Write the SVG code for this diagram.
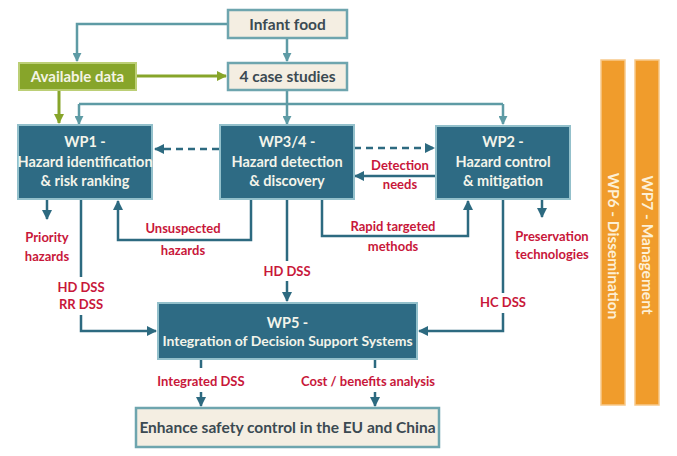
<svg xmlns="http://www.w3.org/2000/svg" width="677" height="456" viewBox="0 0 677 456">
<defs>
<style>
text{font-family:Lato,"Open Sans","Liberation Sans",sans-serif;font-weight:700;text-anchor:middle}
.cream{fill:#f4eee2;stroke:#6ea5ae;stroke-width:2.5}
.green{fill:#87a52a;stroke:#bccf76;stroke-width:2}
.wp{fill:#2e6b84;stroke:#93c0cb;stroke-width:2}
.orange{fill:#f09c2c;stroke:#f7c98a;stroke-width:1.5}
.tc{fill:#3b4a52;font-size:15.5px}
.tw{fill:#f3f4ea;font-size:14.5px}
.tg{fill:#f4f4e4;font-size:15px}
.to{fill:#fdf0d6;font-size:15.5px}
.lab{fill:#c8173a;font-size:13px}
.lt{fill:none;stroke:#5e9ba5;stroke-width:2.5}
.lg{fill:none;stroke:#87a52a;stroke-width:3}
.ld{fill:none;stroke:#2d6a80;stroke-width:2.5}
.dash{stroke-dasharray:7 5}
</style>
<marker id="at" viewBox="0 0 10 10" refX="9" refY="5" markerWidth="9" markerHeight="9" markerUnits="userSpaceOnUse" orient="auto"><path d="M0,0 L10,5 L0,10 z" fill="#5e9ba5"/></marker>
<marker id="ag" viewBox="0 0 10 10" refX="9" refY="5" markerWidth="10" markerHeight="10" markerUnits="userSpaceOnUse" orient="auto"><path d="M0,0 L10,5 L0,10 z" fill="#87a52a"/></marker>
<marker id="ad" viewBox="0 0 10 10" refX="9" refY="5" markerWidth="10" markerHeight="10" markerUnits="userSpaceOnUse" orient="auto"><path d="M0,0 L10,5 L0,10 z" fill="#2d6a80"/></marker>
</defs>
<rect width="677" height="456" fill="#ffffff"/>

<g id="connectors">
<path class="lt" d="M228,24 H77 V61" marker-end="url(#at)"/>
<path class="lt" d="M287,38 V61" marker-end="url(#at)"/>
<path class="lt" d="M287,91 V104"/>
<path class="lt" d="M79,104 H503"/>
<path class="lt" d="M79,104 V124" marker-end="url(#at)"/>
<path class="lt" d="M287,104 V124" marker-end="url(#at)"/>
<path class="lt" d="M503,104 V124" marker-end="url(#at)"/>
<path class="lg" d="M137,76 H226" marker-end="url(#ag)"/>
<path class="lg" d="M59,90 V123" marker-end="url(#ag)"/>
<path class="ld dash" d="M219,149 H155" marker-end="url(#ad)"/>
<path class="ld dash" d="M354,148 H434" marker-end="url(#ad)"/>
<path class="ld" d="M436,176 H355" marker-end="url(#ad)"/>
<path class="ld" d="M47,199 V219" marker-end="url(#ad)"/>
<path class="ld" d="M81,199 V277"/>
<path class="ld" d="M81,315 V331 H156" marker-end="url(#ad)"/>
<path class="ld" d="M251,199 V240 H118 V201" marker-end="url(#ad)"/>
<path class="ld" d="M287,199 V261"/>
<path class="ld" d="M287,281 V301" marker-end="url(#ad)"/>
<path class="ld" d="M322,199 V236 H468 V201" marker-end="url(#ad)"/>
<path class="ld" d="M542,199 V217" marker-end="url(#ad)"/>
<path class="ld" d="M503,199 V293"/>
<path class="ld" d="M503,313 V331 H419" marker-end="url(#ad)"/>
<path class="ld" d="M201,360 V368"/>
<path class="ld" d="M201,392 V406" marker-end="url(#ad)"/>
<path class="ld" d="M375,360 V368"/>
<path class="ld" d="M375,392 V406" marker-end="url(#ad)"/>
</g>

<g id="infant-food"><rect class="cream" x="228" y="10" width="119" height="28"/><text class="tc" x="287.5" y="29.5">Infant food</text></g>
<g id="case-studies"><rect class="cream" x="228" y="63" width="119" height="27"/><text class="tc" x="287.5" y="82">4 case studies</text></g>
<g id="available-data"><rect class="green" x="19" y="63" width="117" height="27"/><text class="tg" x="77.5" y="82">Available data</text></g>

<g id="wp1"><rect class="wp" x="18" y="125" width="134" height="74"/>
<text class="tw" x="85" y="147">WP1 -</text><text class="tw" x="85" y="167">Hazard identification</text><text class="tw" x="85" y="186">&amp; risk ranking</text></g>
<g id="wp34"><rect class="wp" x="220" y="125" width="134" height="74"/>
<text class="tw" x="287" y="147">WP3/4 -</text><text class="tw" x="287" y="167">Hazard detection</text><text class="tw" x="287" y="186">&amp; discovery</text></g>
<g id="wp2"><rect class="wp" x="436" y="126" width="134" height="73"/>
<text class="tw" x="503" y="147">WP2 -</text><text class="tw" x="503" y="167">Hazard control</text><text class="tw" x="503" y="186">&amp; mitigation</text></g>
<g id="wp5"><rect class="wp" x="158" y="303" width="259" height="56"/>
<text class="tw" x="287.5" y="328">WP5 -</text><text class="tw" x="287.5" y="346" style="font-size:14px">Integration of Decision Support Systems</text></g>
<g id="enhance"><rect class="cream" x="136" y="408" width="303" height="39"/><text class="tc" x="287.5" y="433">Enhance safety control in the EU and China</text></g>

<g id="wp6"><rect class="orange" x="601" y="60" width="24" height="345"/><text class="to" transform="translate(613,246) rotate(90)" y="5.5">WP6 - Dissemination</text></g>
<g id="wp7"><rect class="orange" x="635" y="60" width="24" height="345"/><text class="to" transform="translate(647,245) rotate(90)" y="5.5">WP7 - Management</text></g>

<g id="labels">
<text class="lab" x="47" y="242">Priority</text><text class="lab" x="47" y="261">hazards</text>
<text class="lab" x="183" y="233">Unsuspected</text><text class="lab" x="183" y="255">hazards</text>
<text class="lab" x="81" y="292">HD DSS</text><text class="lab" x="81" y="309">RR DSS</text>
<text class="lab" x="287" y="276">HD DSS</text>
<text class="lab" x="400" y="170">Detection</text><text class="lab" x="400" y="189">needs</text>
<text class="lab" x="393" y="231">Rapid targeted</text><text class="lab" x="393" y="251">methods</text>
<text class="lab" x="552" y="241">Preservation</text><text class="lab" x="552" y="259">technologies</text>
<text class="lab" x="503" y="307">HC DSS</text>
<text class="lab" x="201" y="386">Integrated DSS</text>
<text class="lab" x="368" y="386">Cost / benefits analysis</text>
</g>
</svg>
